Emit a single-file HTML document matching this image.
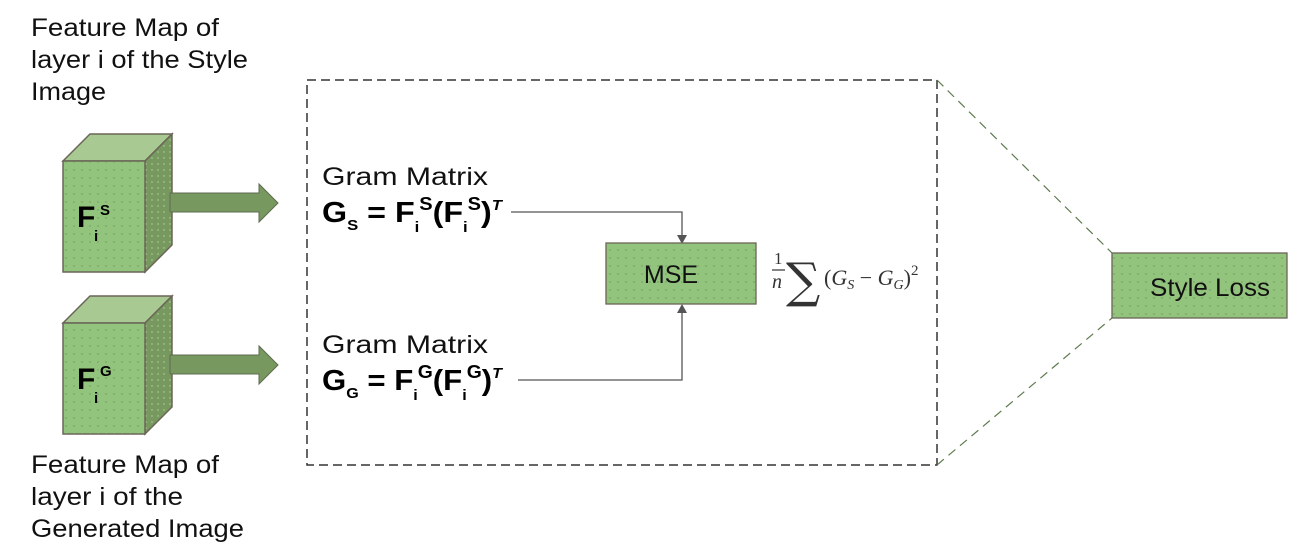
<!DOCTYPE html>
<html><head><meta charset="utf-8"><style>
body{margin:0;background:#fff;width:1297px;height:554px;overflow:hidden}
text{font-family:"Liberation Sans",sans-serif}
.lbl{font-size:25px;fill:#111}
.bf{font-weight:bold;fill:#000}
</style></head><body>
<svg width="1297" height="554" viewBox="0 0 1297 554">
<defs>
<pattern id="dots" width="8" height="8" patternUnits="userSpaceOnUse"><circle cx="2" cy="2" r="0.7" fill="#6f9a57"/></pattern>
<pattern id="dots2" width="6" height="6" patternUnits="userSpaceOnUse"><circle cx="2" cy="2" r="0.7" fill="#b4d39d"/></pattern>
</defs>
<g>
<text class="lbl" x="31" y="36" textLength="188" lengthAdjust="spacingAndGlyphs">Feature Map of</text>
<text class="lbl" x="31" y="68" textLength="217" lengthAdjust="spacingAndGlyphs">layer i of the Style</text>
<text class="lbl" x="31" y="100" textLength="75" lengthAdjust="spacingAndGlyphs">Image</text>
</g>
<g>
<text class="lbl" x="31" y="473" textLength="188" lengthAdjust="spacingAndGlyphs">Feature Map of</text>
<text class="lbl" x="31" y="505" textLength="152" lengthAdjust="spacingAndGlyphs">layer i of the</text>
<text class="lbl" x="31" y="537" textLength="213" lengthAdjust="spacingAndGlyphs">Generated Image</text>
</g>
<g stroke="#6b6558" stroke-width="1.5">
<polygon points="63,161 90,134 172,134 145,161" fill="#a8c991"/>
<polygon points="145,161 172,134 172,245 145,272" fill="#77995f"/>
<polygon points="145,161 172,134 172,245 145,272" fill="url(#dots2)" stroke="none"/>
<rect x="63" y="161" width="82" height="111" fill="#93c47d"/>
<rect x="63" y="161" width="82" height="111" fill="url(#dots)" stroke="none"/>
<text x="77" y="227" font-size="30" class="bf" stroke="none">F</text>
<text x="100" y="215" font-size="15" class="bf" stroke="none">S</text>
<text x="94" y="241" font-size="15" class="bf" stroke="none">i</text>
</g>
<polygon points="170,193 259,193 259,184 278,203 259,222 259,212 170,212" fill="#77995f" stroke="#5f6b50"/>
<g stroke="#6b6558" stroke-width="1.5">
<polygon points="63,323 90,296 172,296 145,323" fill="#a8c991"/>
<polygon points="145,323 172,296 172,407 145,434" fill="#77995f"/>
<polygon points="145,323 172,296 172,407 145,434" fill="url(#dots2)" stroke="none"/>
<rect x="63" y="323" width="82" height="111" fill="#93c47d"/>
<rect x="63" y="323" width="82" height="111" fill="url(#dots)" stroke="none"/>
<text x="77" y="389" font-size="30" class="bf" stroke="none">F</text>
<text x="100" y="376" font-size="15" class="bf" stroke="none">G</text>
<text x="94" y="403" font-size="15" class="bf" stroke="none">i</text>
</g>
<polygon points="170,355 259,355 259,346 278,365 259,384 259,374 170,374" fill="#77995f" stroke="#5f6b50"/>
<rect x="307" y="80" width="630" height="385" fill="none" stroke="#333" stroke-width="1.5" stroke-dasharray="9,5"/>
<line x1="937" y1="80" x2="1112" y2="253" stroke="#5f7a4f" stroke-width="1.2" stroke-dasharray="9,6"/>
<line x1="937" y1="465" x2="1112" y2="318" stroke="#5f7a4f" stroke-width="1.2" stroke-dasharray="9,6"/>
<g>
<text class="lbl" x="322" y="185" textLength="166" lengthAdjust="spacingAndGlyphs">Gram Matrix</text>
<text x="322" y="222" font-size="29" class="bf" textLength="180" lengthAdjust="spacingAndGlyphs">G<tspan font-size="15" dy="8">S</tspan><tspan dy="-8"> = F</tspan><tspan font-size="15" dy="10">i</tspan><tspan font-size="18" dy="-22">S</tspan><tspan dy="12">(F</tspan><tspan font-size="15" dy="10">i</tspan><tspan font-size="18" dy="-22">S</tspan><tspan dy="12">)</tspan><tspan font-size="15" font-style="italic" dy="-12">T</tspan></text>
</g>
<g>
<text class="lbl" x="322" y="353" textLength="166" lengthAdjust="spacingAndGlyphs">Gram Matrix</text>
<text x="322" y="390" font-size="29" class="bf" textLength="180" lengthAdjust="spacingAndGlyphs">G<tspan font-size="15" dy="8">G</tspan><tspan dy="-8"> = F</tspan><tspan font-size="15" dy="10">i</tspan><tspan font-size="18" dy="-22">G</tspan><tspan dy="12">(F</tspan><tspan font-size="15" dy="10">i</tspan><tspan font-size="18" dy="-22">G</tspan><tspan dy="12">)</tspan><tspan font-size="15" font-style="italic" dy="-12">T</tspan></text>
</g>
<polyline points="511,212 682,212 682,236" fill="none" stroke="#555" stroke-width="1.3"/>
<polygon points="677,235 687,235 682,244" fill="#555"/>
<polyline points="518,380 682,380 682,312" fill="none" stroke="#555" stroke-width="1.3"/>
<polygon points="677,313 687,313 682,304" fill="#555"/>
<g>
<rect x="606" y="243" width="150" height="61" fill="#93c47d" stroke="#6b6558" stroke-width="1.3"/>
<rect x="606" y="243" width="150" height="61" fill="url(#dots)"/>
<text x="671" y="283" font-size="25" text-anchor="middle" fill="#111">MSE</text>
</g>
<g fill="#333">
<text x="774" y="264" font-size="17" style="font-family:'Liberation Serif',serif">1</text>
<line x1="772" y1="270" x2="785" y2="270" stroke="#333" stroke-width="1.2"/>
<text x="772" y="288" font-size="20" font-style="italic" style="font-family:'Liberation Serif',serif">n</text>
<text x="786" y="297" font-size="48" style="font-family:'DejaVu Serif',serif">∑</text>
<text x="824" y="285" font-size="22" style="font-family:'Liberation Serif',serif">(<tspan font-style="italic">G</tspan><tspan font-size="14" font-style="italic" dy="4">S</tspan><tspan dy="-4"> − </tspan><tspan font-style="italic">G</tspan><tspan font-size="14" font-style="italic" dy="4">G</tspan><tspan dy="-4">)</tspan><tspan font-size="15" dy="-10">2</tspan></text>
</g>
<g>
<rect x="1112" y="253" width="175" height="65" fill="#93c47d" stroke="#6b6558" stroke-width="1.3"/>
<rect x="1112" y="253" width="175" height="65" fill="url(#dots)"/>
<text x="1150" y="296" font-size="25" fill="#111" textLength="120" lengthAdjust="spacingAndGlyphs">Style Loss</text>
</g>
</svg>
</body></html>
